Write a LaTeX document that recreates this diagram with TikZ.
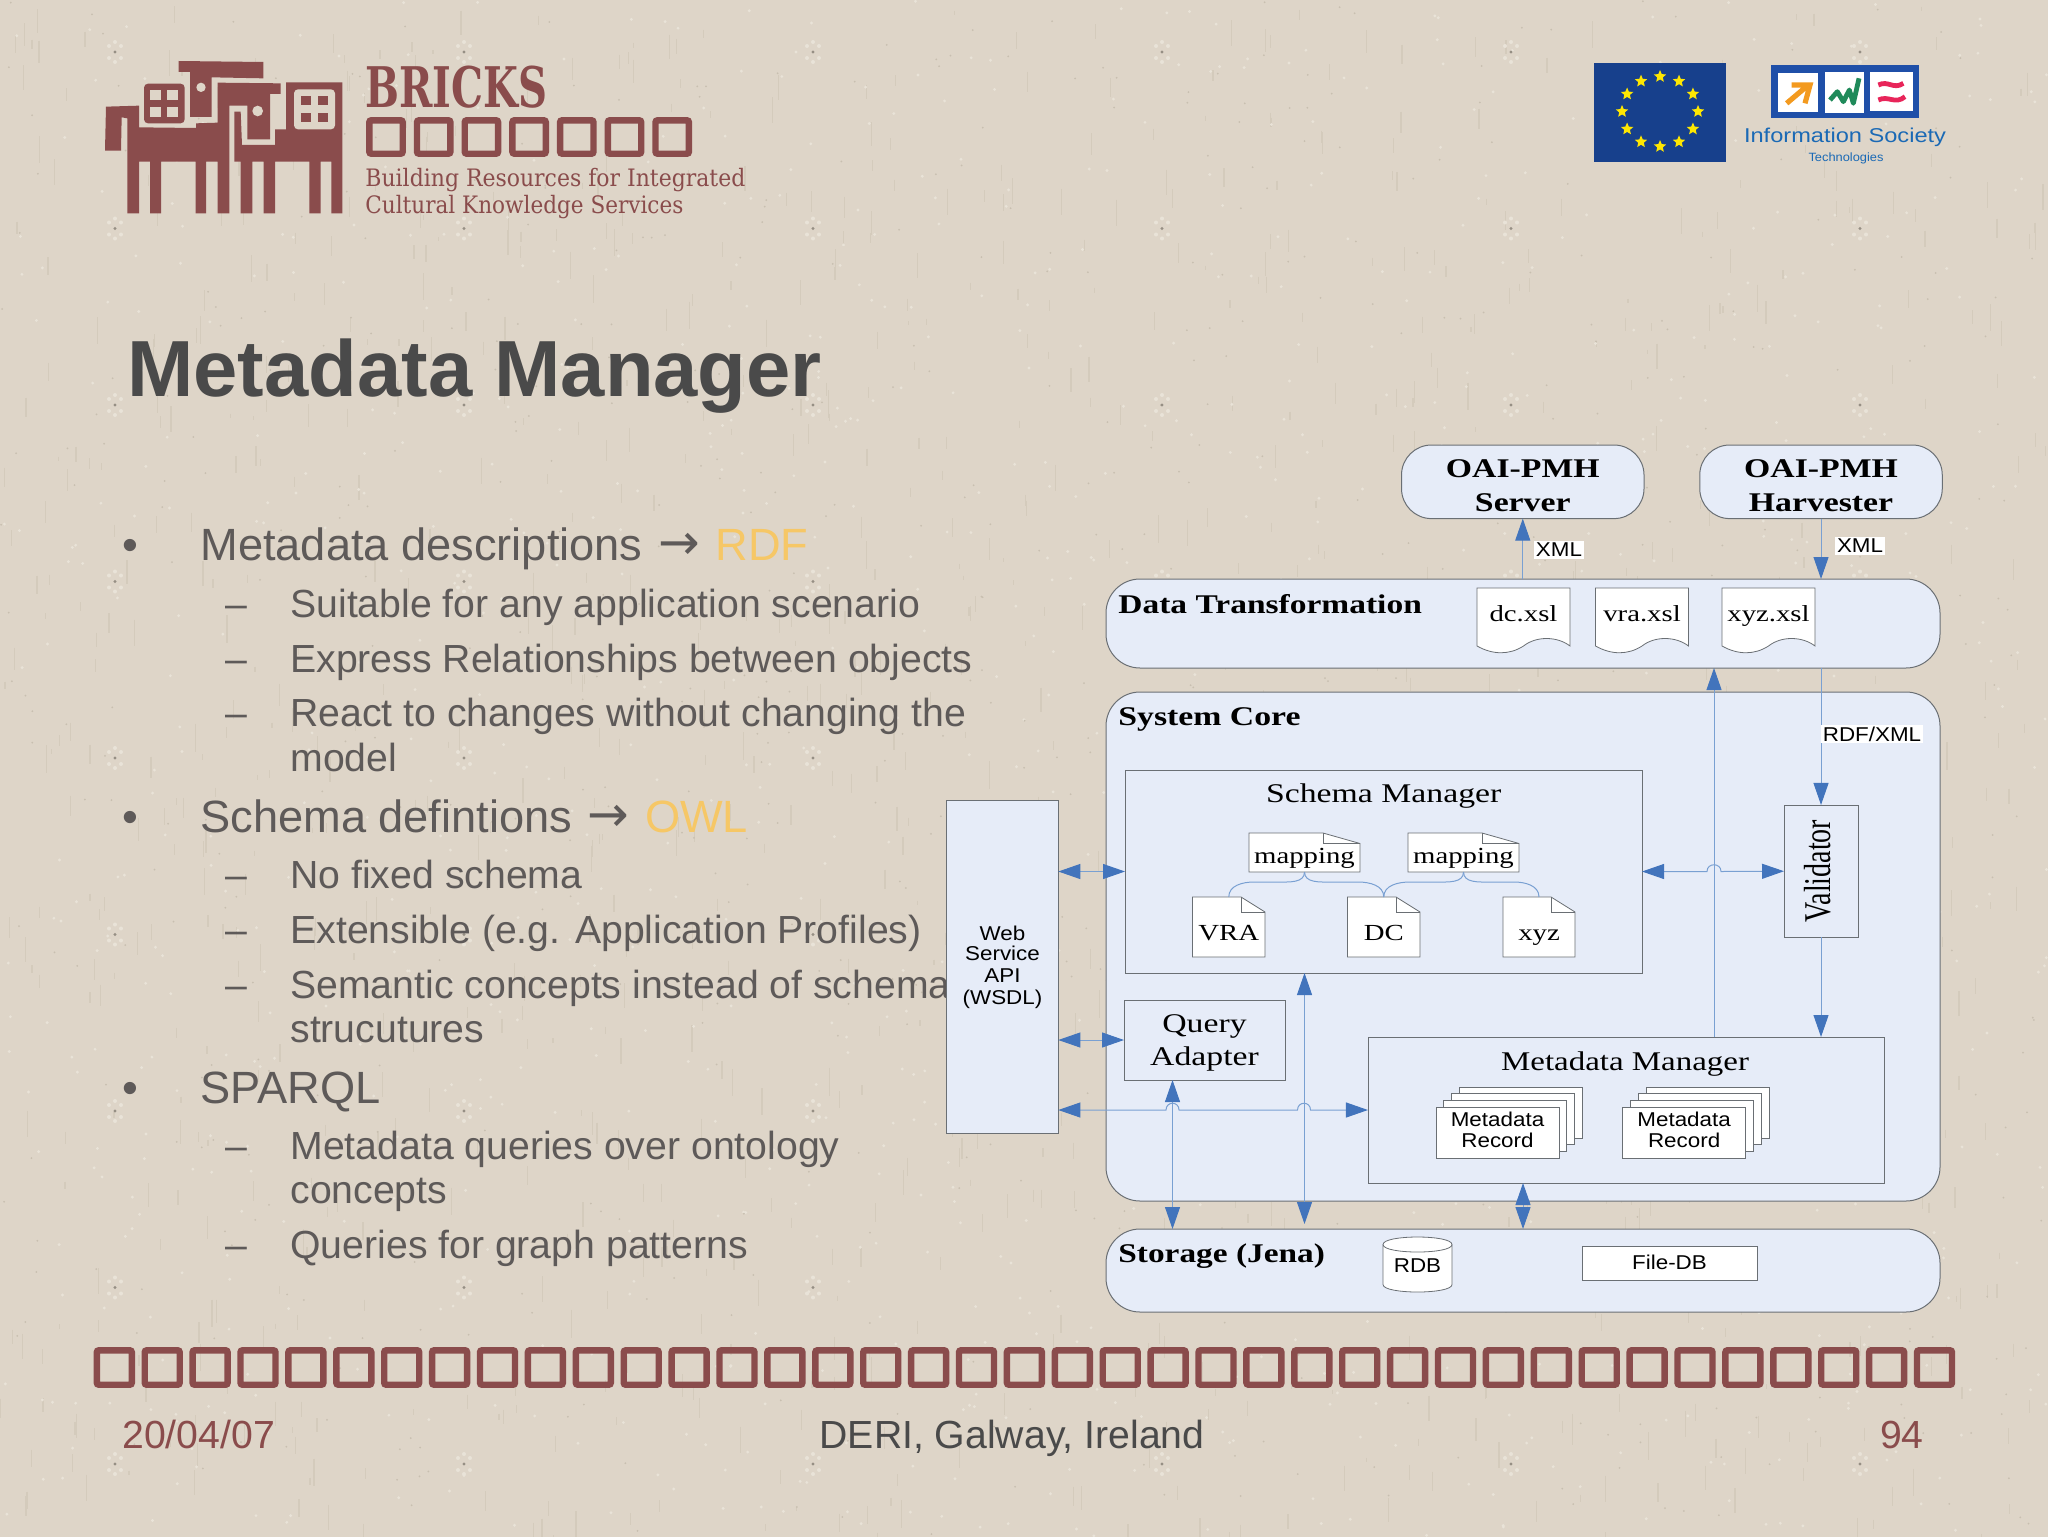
\documentclass[tikz,border=0pt]{standalone}
\usepackage{fontspec}
\setmainfont{Liberation Serif}
\setsansfont{Liberation Sans}
\newfontfamily\slabfont{DejaVu Serif}
\newfontfamily\arrowfont{DejaVu Sans}
\usetikzlibrary{arrows.meta,shapes.geometric}
\definecolor{bgc}{HTML}{DED5C8}
\definecolor{speckL}{HTML}{E9E3D8}
\definecolor{speckD}{HTML}{C8BFB0}
\definecolor{streak}{HTML}{D4CBBC}
\definecolor{brick}{HTML}{8A4C4C}
\definecolor{titlec}{HTML}{4A4A4A}
\definecolor{bodyc}{HTML}{5E5A59}
\definecolor{gold}{HTML}{F6C766}
\definecolor{panel}{HTML}{E6ECF8}
\definecolor{edgec}{HTML}{6A6F74}
\definecolor{linec}{HTML}{79A0D2}
\definecolor{tipc}{HTML}{4274BC}
\definecolor{eublue}{HTML}{17408C}
\definecolor{isblue}{HTML}{1F4FA8}
\newcommand\stx[1]{\scalebox{1.25}[1]{#1}}
\newcommand\sty[1]{\scalebox{1.12}[1]{#1}}
\newcommand\tl[2]{\makebox[0pt]{\raisebox{#1}[0pt][0pt]{\makebox[0pt]{#2}}}}
\newcommand\fs[1]{\fontsize{#1}{#1}\selectfont}
\newcommand\bigarrow{\hspace{1.5pt}{\arrowfont\raisebox{0.5pt}{\scalebox{1.1}{→}}}\hspace{1.5pt}}
\tikzset{
  wh/.style 2 args={minimum width={(#1)*0.5pt},minimum height={(#2)*0.5pt},inner sep=0pt,outer sep=0pt},
  rbox/.style={draw=edgec,fill=panel,line width=0.5pt,rounded corners=17pt},
  sqbox/.style={draw=edgec,fill=panel,line width=0.45pt},
  wbox/.style={draw=edgec,fill=white,line width=0.4pt},
  serifb/.style={font=\rmfamily\bfseries\fs{13.5},text=black},
  serifr/.style={font=\rmfamily\fs{13.5},text=black},
  serifs/.style={font=\rmfamily\fs{11.5},text=black},
  sansl/.style={font=\sffamily\fs{10},text=black},
  conn/.style={draw=linec,line width=0.5pt},
  tipped/.style={conn,arrows={-Triangle[length=11pt,width=7.5pt,color=tipc]}},
  dtipped/.style={conn,arrows={Triangle[length=11pt,width=7.5pt,color=tipc]-Triangle[length=11pt,width=7.5pt,color=tipc]}},
  lone/.style={anchor=base west,font=\sffamily\fs{22.6},text=bodyc,inner sep=0pt},
  ltwo/.style={anchor=base west,font=\sffamily\fs{19.6},text=bodyc,inner sep=0pt},
  foot/.style={font=\sffamily\fs{19.6},inner sep=0pt},
  brsq/.style={draw=brick,line width=3.2pt,rounded corners=1pt},
}
% note document: name,x1,y1,x2,y2,foldw,foldh,raise,text
\newcommand\notedoc[9]{%
  \draw[wbox] (#2,#3) -- (#4-#6,#3) -- (#4,#3+#7) -- (#4,#5) -- (#2,#5) -- cycle;
  \draw[draw=edgec,line width=0.4pt] (#4-#6,#3) -- (#4-#6,#3+#7) -- (#4,#3+#7);
  \node[wh={#4-#2}{#5-#3},serifs] (#1) at ({(#2+#4)/2},{(#3+#5)/2}) {\tl{#8}{\stx{#9}}};
}
% wave document: name,x1,x2,text
\newcommand\wavedoc[4]{%
  \draw[wbox] (#2,588) -- (#3,588) -- (#3,646) .. controls (#3-13,636) and (#3-34,636) .. ({(#2+#3)/2},646)
     .. controls ({(#2+#3)/2-14},655) and (#2+16,655) .. (#2,646) -- cycle;
  \node[wh={#3-#2}{64},serifs] (#1) at ({(#2+#3)/2},620) {\tl{-0.5pt}{\stx{#4}}};
}
% stacked record: name,x1
\newcommand\recstack[2]{%
  \foreach \k in {3,2,1} {\draw[wbox] (#2+\k*7.8,1107-\k*6.6) rectangle (#2+123+\k*7.8,1158-\k*6.6);}
  \node[wbox,wh={123}{51},sansl] (#1) at (#2+61.5,1132.5) {\tl{2.9pt}{\sty{Metadata}}\tl{-7.25pt}{\sty{Record}}};
}
\begin{document}
\begin{tikzpicture}[x=0.5pt,y=-0.5pt]
\useasboundingbox (0,0) rectangle (2048,1536);
\fill[bgc] (-6,-6) rectangle (2054,1542);
% paper texture
\pgfmathsetseed{11}
\foreach \i in {1,...,1100} {\draw[streak,line width=0.6pt] ({rnd*2048},{rnd*1536}) -- ++(0,{4+rnd*24});}
\foreach \i in {1,...,1100} {\fill[speckL] ({rnd*2048},{rnd*1536}) circle[radius=0.8pt];}
\foreach \i in {1,...,700} {\fill[speckD] ({rnd*2048},{rnd*1536}) circle[radius=0.5pt];}
\foreach \c in {0,...,5} {\foreach \r in {0,...,8} {
  \foreach \a/\b in {-6/-6,6/-6,-6/6,6/6,0/-10,0/10} {\fill[speckL] (115+349*\c+\a,52+176.5*\r+\b) circle[radius=1pt];}
  \fill[speckD!75!black] (115+349*\c,52+176.5*\r) circle[radius=0.8pt];
}}
% logo building
\begin{scope}[shift={(90,50)},xscale=0.33333,yscale=0.33333]
\fill[brick] (45,302)--(48,170)--(147,167)--(147,232)--(318,234)--(318,220)--(383,218)--(383,98)--(572,100)--(572,132)--(540,132)--(540,268)--(472,268)--(472,167)--(418,167)--(418,490)--(383,490)--(383,335)--(348,335)--(348,490)--(317,490)--(317,335)--(213,335)--(213,490)--(180,490)--(180,335)--(147,335)--(147,490)--(112,490)--(112,205)--(95,202)--(93,302)--cycle;
\fill[brick] (433,185)--(452,185)--(456,285)--(555,285)--(555,238)--(588,238)--(588,97)--(757,97)--(757,490)--(724,490)--(724,335)--(692,335)--(692,490)--(658,490)--(658,335)--(555,335)--(555,490)--(521,490)--(521,335)--(487,335)--(487,490)--(452,490)--(452,335)--(433,335)--cycle;
\fill[brick] (266,33)--(520,36)--(520,85)--(365,82)--(365,201)--(300,201)--(300,66)--(266,66)--cycle;
\fill[bgc] (333,112) circle[radius=7pt];
\fill[bgc] (503,183) circle[radius=8pt];
\fill[brick,rounded corners=2pt] (162,101) rectangle (284,220);
\foreach \a/\b in {181/120,232/120,181/170,232/170} {\fill[bgc] (\a,\b) rectangle (\a+32,\b+30);}
\fill[bgc,rounded corners=2pt] (612,118) rectangle (735,238);
\foreach \a/\b in {633/137,684/137,633/188,684/188} {\fill[brick] (\a,\b) rectangle (\a+30,\b+28);}
\end{scope}
\node[anchor=base west,inner sep=0pt,text=brick,font=\slabfont\bfseries\fs{28}] (brand) at (365,107) {\resizebox{91pt}{\height}{BRICKS}};
\foreach \i in {0,...,6} {\draw[brsq] (366+3.3+47.7*\i,117+3.3) rectangle (366+40-3.3+47.7*\i,157-3.3);}
\node[anchor=base west,inner sep=0pt,text=brick,font=\slabfont\fs{12}] (tag1) at (365,186) {\resizebox{190pt}{\height}{Building Resources for Integrated}};
\node[anchor=base west,inner sep=0pt,text=brick,font=\slabfont\fs{12}] (tag2) at (365,213) {\resizebox{159pt}{\height}{Cultural Knowledge Services}};
% EU flag
\fill[eublue] (1594,63) rectangle (1726,162);
\foreach \i in {0,30,...,330} {\node[star,star points=5,star point ratio=2.2,fill=yellow!90!orange,inner sep=0pt,minimum size=6.5pt] (st\i) at ({1660+38*cos(\i)},{111.5+35*sin(\i)}) {};}
% IST logo
\begin{scope}[shift={(1560,40)},xscale=0.33333,yscale=0.33333]
\fill[isblue] (632,75) rectangle (1078,235);
\fill[white] (655,100) rectangle (775,215);
\fill[white] (795,95) rectangle (912,218);
\fill[white] (930,95) rectangle (1058,212);
\draw[color={rgb,255:red,243;green,154;blue,31},line width=2.6pt] (680,190) -- (745,135) (695,135) -- (750,135) -- (735,190);
\draw[color={rgb,255:red,31;green,138;blue,90},line width=2.4pt,line join=round] (810,180) -- (832,155) -- (850,185) -- (868,150) -- (880,190) -- (897,115);
\draw[color={rgb,255:red,232;green,37;blue,90},line width=2.4pt] (955,135) .. controls (985,120) and (1000,150) .. (1030,130);
\draw[color={rgb,255:red,232;green,37;blue,90},line width=2.4pt] (955,180) .. controls (985,165) and (1005,195) .. (1035,170);
\end{scope}
\node[inner sep=0pt,text=isblue!85!cyan,font=\sffamily\fs{10}] (ist) at (1845,137) {\resizebox{101pt}{\height}{Information Society}};
\node[inner sep=0pt,text=isblue!85!cyan,font=\sffamily\fs{6}] (ist2) at (1846,158) {\resizebox{37.5pt}{\height}{Technologies}};
% title
\node[anchor=base west,inner sep=0pt,font=\sffamily\bfseries\fs{39.8},text=titlec] (title) at (127,396) {Metadata Manager};
% bullet text
\foreach \y in {560,832,1103} {\node[lone,anchor=base] (b\y) at (130,\y) {•};}
\foreach \y in {617,672,726,888,943,998,1159,1258} {\node[ltwo] (d\y) at (225,\y) {–};}
\node[lone] (t1) at (200,560) {Metadata descriptions \bigarrow{} \textcolor{gold}{RDF}};
\node[ltwo] (t2) at (290,617) {Suitable for any application scenario};
\node[ltwo] (t3) at (290,672) {Express Relationships between objects};
\node[ltwo] (t4) at (290,726) {React to changes without changing the};
\node[ltwo] (t5) at (290,771) {model};
\node[lone] (t6) at (200,832) {Schema defintions \bigarrow{} \textcolor{gold}{OWL}};
\node[ltwo] (t7) at (290,888) {No fixed schema};
\node[ltwo] (t8) at (290,943) {Extensible (e.g. Application Profiles)};
\node[ltwo] (t9) at (290,998) {Semantic concepts instead of schema};
\node[ltwo] (t10) at (290,1042) {strucutures};
\node[lone] (t11) at (200,1103) {SPARQL};
\node[ltwo] (t12) at (290,1159) {Metadata queries over ontology};
\node[ltwo] (t13) at (290,1203) {concepts};
\node[ltwo] (t14) at (290,1258) {Queries for graph patterns};
% footer
\foreach \i in {0,...,38} {\draw[brsq] (93.5+3.3+47.9*\i,1347+3.3) rectangle (93.5+41.6-3.3+47.9*\i,1388-3.3);}
\node[foot,anchor=base west,text=brick] (fd) at (122,1448) {20/04/07};
\node[foot,anchor=base,text=titlec] (fc) at (1012,1448) {DERI, Galway, Ireland};
\node[foot,anchor=base east,text=brick] (fn) at (1924,1448) {94};
% helper columns
\coordinate (c1) at (1172.5,0);
\coordinate (c3) at (1714,0);
% containers
\node[rbox,wh={834}{509}] (core) at (1523,946.5) {};
\node[rbox,wh={834}{89}] (dt) at (1523,623.5) {};
\node[rbox,wh={834}{83}] (sto) at (1523,1270.5) {};
\node[rbox,wh={242.5}{73.6},rounded corners=15pt,serifb] (srv) at (1522.75,481.8) {\tl{2.15pt}{\stx{OAI-PMH}}\tl{-14.8pt}{\stx{Server}}};
\node[rbox,wh={242.5}{73.6},rounded corners=15pt,serifb] (har) at (1821,481.8) {\tl{2.15pt}{\stx{OAI-PMH}}\tl{-14.8pt}{\stx{Harvester}}};
\node[anchor=base west,inner sep=0pt,serifb] (dtl) at (1118,613) {\scalebox{1.24}[1]{Data Transformation}};
\node[anchor=base west,inner sep=0pt,serifb] (corel) at (1118,725.5) {\stx{System Core}};
\node[anchor=base west,inner sep=0pt,serifb] (stol) at (1118,1262.5) {\scalebox{1.235}[1]{Storage (Jena)}};
\wavedoc{dcx}{1477}{1570}{dc.xsl}
\wavedoc{vrax}{1595.5}{1688.5}{vra.xsl}
\wavedoc{xyzx}{1722}{1815}{xyz.xsl}
% inner boxes
\node[sqbox,wh={517}{203}] (sch) at (1383.5,871.5) {};
\node[anchor=base,inner sep=0pt,serifr] (schl) at (1383.7,802) {\scalebox{1.25}[1]{Schema Manager}};
\node[sqbox,wh={111.6}{332.5},sansl] (ws) at (1002.5,967) {\tl{13.5pt}{\sty{Web}}\tl{3.15pt}{\sty{Service}}\tl{-7.85pt}{\sty{API}}\tl{-18.5pt}{\sty{(WSDL)}}};
\node[sqbox,wh={161}{80},serifr] (qa) at (1204.5,1040) {\tl{3.65pt}{\stx{Query}}\tl{-12.5pt}{\stx{Adapter}}};
\node[sqbox,wh={516.5}{146}] (mm) at (1626.2,1110) {};
\node[anchor=base,inner sep=0pt,serifr] (mml) at (1625,1070) {\scalebox{1.22}[1]{Metadata Manager}};
\node[sqbox,wh={74}{132.5}] (val) at (1821,871.2) {\rotatebox{90}{\raisebox{3.5pt}{\fs{14}\rmfamily\scalebox{1}[1.35]{Validator}}}};
\notedoc{mapa}{1249}{833}{1360}{872}{37}{10.5}{-5.25pt}{mapping}
\notedoc{mapb}{1408}{833}{1519}{872}{37}{10.5}{-5.25pt}{mapping}
\notedoc{vra}{1192.5}{897}{1265}{957}{24}{15}{-6.85pt}{VRA}
\notedoc{dcd}{1347.5}{897}{1420}{957}{24}{15}{-6.85pt}{DC}
\notedoc{xyd}{1503}{897}{1575}{957}{24}{15}{-6.85pt}{xyz}
\recstack{reca}{1436}
\recstack{recb}{1622.6}
% storage items
\draw[wbox,fill=white] (1383,1244.5) .. controls (1383,1234.5) and (1452,1234.5) .. (1452,1244.5) -- (1452,1284.5) .. controls (1452,1294.5) and (1383,1294.5) .. (1383,1284.5) -- cycle;
\draw[draw=edgec,line width=0.4pt] (1383,1244.5) .. controls (1383,1254.5) and (1452,1254.5) .. (1452,1244.5);
\node[wh={69}{55},sansl] (rdb) at (1417.5,1264.5) {\tl{-4.2pt}{\sty{RDB}}};
\node[wbox,wh={175}{34},sansl] (fdb) at (1669.5,1263) {\tl{-3pt}{\sty{File-DB}}};
% connectors
\draw[tipped] (dt.north -| srv.south) -- (srv.south);
\draw[tipped] (har.south) -- (dt.north -| har.south);
\draw[tipped] (dt.south -| val.north) -- (val.north);
\draw[tipped] (mm.north -| c3) -- (dt.south -| c3);
\draw[tipped] (val.south) -- (mm.north -| val.south);
\draw[dtipped] (ws.east |- sch.west) -- (sch.west);
\draw[dtipped] (ws.east |- qa.west) -- (qa.west);
\draw[dtipped] (ws.east |- mm.west) -- (1166,1110) .. controls (1166,1101) and (1179,1101) .. (1179,1110) -- (1297.5,1110) .. controls (1297.5,1101) and (1310.5,1101) .. (1310.5,1110) -- (mm.west);
\draw[dtipped] (sch.east) -- (1707,871.5) .. controls (1707,862.5) and (1721,862.5) .. (1721,871.5) -- (val.west);
\draw[dtipped] (qa.south -| c1) -- (sto.north -| c1);
\draw[dtipped,shorten >=2.5pt] (sch.south -| mapa.south) -- (sto.north -| mapa.south);
\draw[dtipped] (mm.south -| sto.north) -- (sto.north);
\draw[conn] (mapa.south) to[out=-90,in=0] (1278,882) -- (1254,882) to[out=180,in=90] (vra.north);
\draw[conn] (mapa.south) to[out=-90,in=180] (1331,882) -- (1358,882) to[out=0,in=90] (dcd.north);
\draw[conn] (mapb.south) to[out=-90,in=0] (1437,882) -- (1410,882) to[out=180,in=90] (dcd.north);
\draw[conn] (mapb.south) to[out=-90,in=180] (1490,882) -- (1514,882) to[out=0,in=90] (xyd.north);
% connector labels
\node[sansl,fill=white,inner sep=1pt] (xa) at (1559,550) {\sty{XML}};
\node[sansl,fill=white,inner sep=1pt] (xb) at (1860,546) {\sty{XML}};
\node[sansl,fill=white,inner sep=1pt] (xc) at (1872,734) {\sty{RDF/XML}};
\end{tikzpicture}
\end{document}
